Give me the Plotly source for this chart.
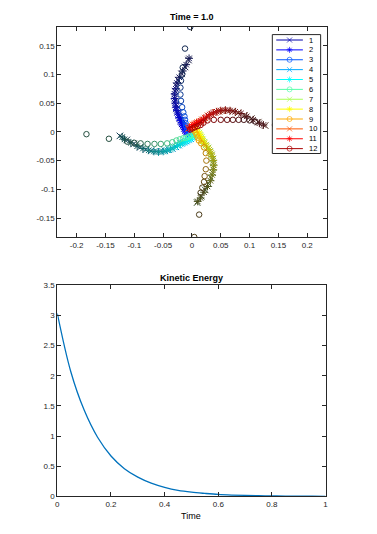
import numpy as np
import plotly.graph_objects as go

# ---------------- data ----------------
# up arm (series 1-3)
S1X = [-0.006,-0.009,-0.011,-0.013,-0.015,-0.017,-0.019,-0.021,-0.023,-0.025,-0.027,-0.028,-0.029,-0.030,-0.029,-0.027,-0.024,-0.018,-0.012,-0.006]
S1Y = [-0.006,-0.002,0.002,0.006,0.010,0.014,0.018,0.023,0.028,0.034,0.040,0.047,0.054,0.062,0.071,0.080,0.090,0.101,0.113,0.125]
S2X = [-0.007,-0.010,-0.012,-0.014,-0.016,-0.018,-0.020,-0.022,-0.024,-0.026,-0.028,-0.029,-0.030,-0.030,-0.028,-0.026,-0.022,-0.016,-0.010,-0.005]
S2Y = [-0.004,0.000,0.004,0.008,0.012,0.016,0.020,0.025,0.031,0.037,0.043,0.050,0.058,0.066,0.075,0.085,0.095,0.106,0.117,0.128]
S3X = [-0.004,-0.006,-0.008,-0.010,-0.011,-0.012,-0.013,-0.015,-0.017,-0.019,-0.020,-0.020,-0.019,-0.017,-0.016,-0.012,-0.003]
S3Y = [-0.003,0.001,0.005,0.010,0.015,0.021,0.027,0.034,0.043,0.054,0.065,0.077,0.089,0.100,0.112,0.145,0.1825]
# left arm (series 4-6)
S4X = [0.006,0.002,-0.002,-0.006,-0.010,-0.014,-0.018,-0.023,-0.028,-0.034,-0.040,-0.047,-0.054,-0.062,-0.071,-0.080,-0.090,-0.101,-0.113,-0.125]
S4Y = [-0.006,-0.009,-0.012,-0.014,-0.016,-0.018,-0.020,-0.023,-0.026,-0.029,-0.031,-0.033,-0.034,-0.034,-0.033,-0.031,-0.027,-0.021,-0.014,-0.007]
S5X = [0.004,0.000,-0.004,-0.008,-0.012,-0.016,-0.020,-0.025,-0.031,-0.037,-0.043,-0.050,-0.058,-0.066,-0.075,-0.085,-0.095,-0.106,-0.117,-0.121]
S5Y = [-0.007,-0.010,-0.013,-0.015,-0.017,-0.019,-0.021,-0.024,-0.027,-0.030,-0.032,-0.034,-0.035,-0.034,-0.032,-0.029,-0.025,-0.019,-0.013,-0.009]
S6X = [0.003,-0.001,-0.005,-0.010,-0.015,-0.021,-0.027,-0.034,-0.043,-0.054,-0.065,-0.077,-0.089,-0.100,-0.112,-0.144,-0.183]
S6Y = [-0.004,-0.006,-0.008,-0.010,-0.011,-0.013,-0.015,-0.018,-0.020,-0.021,-0.021,-0.021,-0.020,-0.019,-0.017,-0.012,-0.004]
# down arm (series 7-9)
S7X = [0.006,0.009,0.012,0.014,0.016,0.018,0.021,0.024,0.028,0.031,0.034,0.036,0.037,0.037,0.036,0.033,0.029,0.023,0.016,0.009]
S7Y = [0.006,0.002,-0.002,-0.006,-0.010,-0.014,-0.018,-0.023,-0.028,-0.034,-0.040,-0.047,-0.054,-0.062,-0.071,-0.080,-0.090,-0.101,-0.112,-0.123]
S8X = [0.007,0.010,0.013,0.015,0.017,0.019,0.022,0.026,0.030,0.033,0.035,0.037,0.038,0.037,0.035,0.032,0.027,0.021,0.015,0.010]
S8Y = [0.004,0.000,-0.004,-0.008,-0.012,-0.016,-0.020,-0.025,-0.031,-0.037,-0.043,-0.050,-0.058,-0.066,-0.075,-0.085,-0.095,-0.105,-0.115,-0.121]
S9X = [0.004,0.006,0.008,0.010,0.012,0.016,0.021,0.024,0.025,0.024,0.022,0.021,0.018,0.015,0.0125,0.004]
S9Y = [0.003,-0.001,-0.005,-0.010,-0.015,-0.020,-0.027,-0.037,-0.050,-0.065,-0.077,-0.087,-0.097,-0.106,-0.144,-0.183]
# right arm (series 10-12)
S10X = [-0.006,-0.002,0.002,0.006,0.010,0.014,0.018,0.023,0.028,0.034,0.040,0.047,0.054,0.062,0.071,0.080,0.091,0.103,0.115,0.127]
S10Y = [0.006,0.009,0.012,0.014,0.016,0.018,0.021,0.024,0.028,0.031,0.034,0.036,0.037,0.037,0.036,0.033,0.029,0.023,0.017,0.011]
S11X = [-0.004,0.000,0.004,0.008,0.012,0.016,0.020,0.025,0.031,0.037,0.043,0.050,0.058,0.066,0.075,0.085,0.095,0.106,0.117,0.124]
S11Y = [0.007,0.010,0.013,0.015,0.017,0.019,0.022,0.026,0.030,0.033,0.035,0.037,0.038,0.037,0.035,0.032,0.027,0.021,0.015,0.012]
S12X = [-0.003,0.001,0.005,0.010,0.015,0.020,0.027,0.038,0.050,0.061,0.071,0.081,0.090,0.100,0.110,0.144,0.183]
S12Y = [0.004,0.006,0.008,0.010,0.012,0.016,0.020,0.021,0.021,0.021,0.021,0.021,0.021,0.020,0.018,0.012,0.004]

SERIES_NAMES = ["1","2","3","4","5","6","7","8","9","10","11","12"]

# kinetic energy
KE_T = [0.0,0.05,0.1,0.15,0.2,0.25,0.3,0.35,0.4,0.45,0.5,0.55,0.6,0.65,0.7,0.75,0.8,0.85,0.9,0.95,1.0]
KE_V = [3.03,2.07,1.43,0.98,0.67,0.46,0.32,0.22,0.15,0.10,0.07,0.05,0.033,0.023,0.016,0.011,0.008,0.005,0.004,0.003,0.002]

TOP_XTICKS = [-0.2,-0.15,-0.1,-0.05,0,0.05,0.1,0.15,0.2]
TOP_XTEXT = ["-0.2","-0.15","-0.1","-0.05","0","0.05","0.1","0.15","0.2"]
TOP_YTICKS = [-0.15,-0.1,-0.05,0,0.05,0.1,0.15]
TOP_YTEXT = ["-0.15","-0.1","-0.05","0","0.05","0.1","0.15"]
BOT_XTICKS = [0,0.2,0.4,0.6,0.8,1]
BOT_XTEXT = ["0","0.2","0.4","0.6","0.8","1"]
BOT_YTICKS = [0,0.5,1,1.5,2,2.5,3,3.5]
BOT_YTEXT = ["0","0.5","1","1.5","2","2.5","3","3.5"]

# ---------------- styles / layout ----------------
JET12 = [(0,0,170),(0,0,255),(0,85,255),(0,170,255),(0,255,255),(85,255,170),
         (170,255,85),(255,255,0),(255,170,0),(255,85,0),(255,0,0),(170,0,0)]
SYMBOLS = ["x-thin-open","asterisk-open","circle-open"]*4
DARK = (25,30,35)
OFF = 8                              # page body margin
W, H = 377 - 2*OFF, 534 - 2*OFF      # figure size that fits inside the body
FONT = "Liberation Sans, Arial, sans-serif"
AXC = "#262626"

def fx(p):  # screen pixel x -> paper fraction
    return (p - OFF) / W

def fy(p):  # screen pixel y -> paper fraction
    return 1 - (p - OFF) / H

def shade(base, x, y):
    r = (x*x + y*y) ** 0.5
    s = min(max((r - 0.012)/0.09, 0.0), 1.0)
    k = 0.78*s
    c = [round(b*(1-k) + d*k) for b, d in zip(base, DARK)]
    return f"rgb({c[0]},{c[1]},{c[2]})"

def rgb(c):
    return f"rgb({c[0]},{c[1]},{c[2]})"

series = [(S1X,S1Y),(S2X,S2Y),(S3X,S3Y),(S4X,S4Y),(S5X,S5Y),(S6X,S6Y),
          (S7X,S7Y),(S8X,S8Y),(S9X,S9Y),(S10X,S10Y),(S11X,S11Y),(S12X,S12Y)]

fig = go.Figure()
for i, (xs, ys) in enumerate(series):
    cols = [shade(JET12[i], x, y) for x, y in zip(xs, ys)]
    fig.add_trace(go.Scatter(
        x=xs, y=ys, mode="markers", name=SERIES_NAMES[i], showlegend=False,
        marker=dict(symbol=SYMBOLS[i], size=6.5 if i % 3 != 2 else 5.5, color=cols,
                    line=dict(width=1, color=cols)),
        xaxis="x", yaxis="y", hoverinfo="skip"))

fig.add_trace(go.Scatter(x=KE_T, y=KE_V, mode="lines", line=dict(color="#0072BD", width=1.3, shape="spline"),
                         xaxis="x2", yaxis="y2", showlegend=False))

# ---- custom legend on a screen-pixel overlay axis ----
LX0, LX1, LY0, LY1 = 274, 323, 31, 152
fig.add_trace(go.Scatter(x=[LX0, LX1, LX1, LX0, LX0], y=[LY0, LY0, LY1, LY1, LY0], mode="lines",
                         fill="toself", fillcolor="white", line=dict(color=AXC, width=1),
                         xaxis="x3", yaxis="y3", showlegend=False, hoverinfo="skip"))
annotations = []
for i, nm in enumerate(SERIES_NAMES):
    yy = 36.5 + i*10.05
    fig.add_trace(go.Scatter(x=[278, 291.5, 305], y=[yy, yy, yy], mode="lines+markers",
                             line=dict(color=rgb(JET12[i]), width=1),
                             marker=dict(symbol=SYMBOLS[i], size=[0, 5, 0], color=rgb(JET12[i]),
                                         line=dict(width=1, color=rgb(JET12[i]))),
                             xaxis="x3", yaxis="y3", showlegend=False, hoverinfo="skip"))
    annotations.append(dict(x=309, y=yy, xref="x3", yref="y3", text=nm, showarrow=False,
                            xanchor="left", yanchor="middle",
                            font=dict(family=FONT, size=7.5, color="black")))

# titles
annotations.append(dict(x=fx(192.5), y=fy(13), xref="paper", yref="paper", text="<b>Time = 1.0</b>",
                        showarrow=False, font=dict(family=FONT, size=9, color="black"), yanchor="middle"))
annotations.append(dict(x=fx(192), y=fy(279), xref="paper", yref="paper", text="<b>Kinetic Energy</b>",
                        showarrow=False, font=dict(family=FONT, size=9, color="black"), yanchor="middle"))
annotations.append(dict(x=fx(192), y=fy(521), xref="paper", yref="paper", text="Time",
                        showarrow=False, font=dict(family=FONT, size=9, color="black"), yanchor="middle"))

def ax(domain, rng, tv, tt, anchor):
    return dict(domain=domain, range=rng, tickvals=tv, ticktext=tt, anchor=anchor,
                showgrid=False, zeroline=False, showline=True, linecolor=AXC, linewidth=1,
                mirror="ticks", ticks="inside", ticklen=4, tickcolor=AXC, tickwidth=1,
                tickfont=dict(family=FONT, size=8, color=AXC))

fig.update_layout(
    width=W, height=H, autosize=False,
    margin=dict(l=0, r=0, t=0, b=0),
    paper_bgcolor="white", plot_bgcolor="rgba(0,0,0,0)",
    xaxis=ax([fx(56), fx(329)], [-0.2335, 0.2335], TOP_XTICKS, TOP_XTEXT, "y"),
    yaxis=ax([fy(237), fy(23)], [-0.183, 0.183], TOP_YTICKS, TOP_YTEXT, "x"),
    xaxis2=ax([fx(56), fx(328)], [0, 1], BOT_XTICKS, BOT_XTEXT, "y2"),
    yaxis2=ax([fy(501), fy(286)], [0, 3.5], BOT_YTICKS, BOT_YTEXT, "x2"),
    xaxis3=dict(domain=[0, 1], range=[OFF, OFF + W], visible=False, anchor="y3", fixedrange=True),
    yaxis3=dict(domain=[0, 1], range=[OFF + H, OFF], visible=False, anchor="x3", fixedrange=True),
    annotations=annotations,
    showlegend=False,
)

fig.write_html("out.html")
